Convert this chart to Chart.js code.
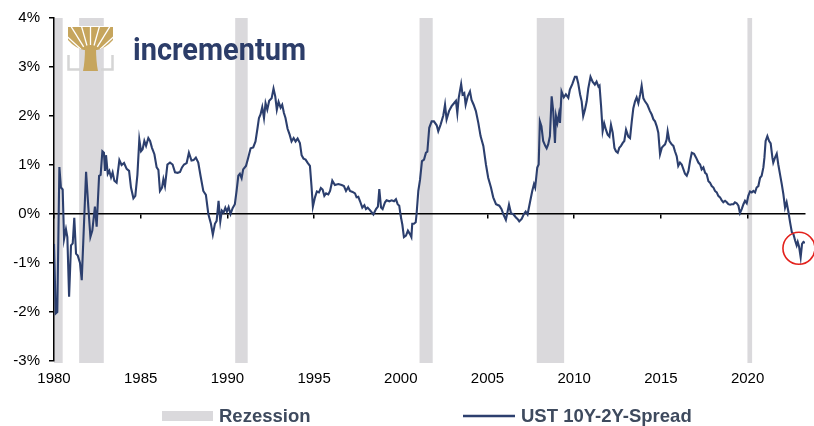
<!DOCTYPE html>
<html>
<head>
<meta charset="utf-8">
<script src="https://cdn.jsdelivr.net/npm/chart.js@4/dist/chart.umd.min.js"></script>
<style>
  body { margin: 0; background: #fff; }
  #wrap { width: 814px; height: 426px; }
</style>
</head>
<body>
<div id="wrap"><canvas id="chart" width="814" height="426"></canvas></div>
<script>
// decimal years and the 10Y-2Y spread (in %)
const years = [
  1980.00, 1980.10, 1980.19, 1980.31, 1980.40, 1980.50, 1980.58, 1980.69, 1980.77, 1980.87, 1980.98,
  1981.08, 1981.17, 1981.27, 1981.37, 1981.50, 1981.60, 1981.85, 1981.98,
  1982.10, 1982.21, 1982.36, 1982.46, 1982.60, 1982.69, 1982.79, 1982.88, 1982.94,
  1983.00, 1983.10, 1983.19, 1983.29, 1983.38, 1983.48, 1983.61, 1983.77, 1983.90,
  1984.04, 1984.19, 1984.33, 1984.44, 1984.58, 1984.69, 1984.81, 1984.92,
  1985.02, 1985.11, 1985.21, 1985.31, 1985.44, 1985.54, 1985.65, 1985.79, 1985.92,
  1986.02, 1986.11, 1986.23, 1986.31, 1986.40, 1986.54, 1986.69, 1986.84, 1986.98,
  1987.13, 1987.27, 1987.38, 1987.50, 1987.65, 1987.78, 1987.93,
  1988.05, 1988.18, 1988.32, 1988.45, 1988.61, 1988.76, 1988.90,
  1989.05, 1989.16, 1989.28, 1989.38, 1989.49, 1989.59, 1989.68, 1989.78, 1989.88, 1989.97,
  1990.07, 1990.18, 1990.30, 1990.43, 1990.53, 1990.63, 1990.72, 1990.82, 1990.91,
  1991.07, 1991.20, 1991.34, 1991.49, 1991.62, 1991.74, 1991.82, 1991.91,
  1992.01, 1992.11, 1992.20, 1992.30, 1992.41, 1992.55, 1992.66, 1992.76, 1992.85, 1992.95,
  1993.07, 1993.16, 1993.26, 1993.35, 1993.47, 1993.59, 1993.70, 1993.82, 1993.93,
  1994.05, 1994.18, 1994.28, 1994.39, 1994.51, 1994.62, 1994.76, 1994.85, 1994.93,
  1995.05, 1995.16, 1995.28, 1995.39, 1995.49, 1995.59, 1995.69, 1995.82, 1995.92,
  1996.05, 1996.20, 1996.40, 1996.59, 1996.72, 1996.84, 1996.97,
  1997.07, 1997.22, 1997.36, 1997.45, 1997.55, 1997.65, 1997.78, 1997.90, 1997.99,
  1998.09, 1998.22, 1998.42, 1998.57, 1998.68, 1998.76, 1998.86, 1998.95,
  1999.09, 1999.18, 1999.34, 1999.47, 1999.61, 1999.72, 1999.82, 1999.91, 1999.99,
  2000.09, 2000.18, 2000.30, 2000.41, 2000.53, 2000.61, 2000.66, 2000.76, 2000.86, 2000.91,
  2001.01, 2001.11, 2001.22, 2001.34, 2001.45, 2001.53, 2001.64, 2001.78, 2001.91,
  2002.07, 2002.16, 2002.30, 2002.45, 2002.55, 2002.64, 2002.78, 2002.93,
  2003.09, 2003.18, 2003.26, 2003.34, 2003.48, 2003.56, 2003.66, 2003.74, 2003.86, 2003.99,
  2004.08, 2004.20, 2004.33, 2004.47, 2004.60, 2004.76, 2004.91,
  2005.04, 2005.20, 2005.33, 2005.49, 2005.68, 2005.81, 2005.91,
  2006.06, 2006.24, 2006.36, 2006.48, 2006.64, 2006.73, 2006.83, 2006.97,
  2007.10, 2007.20, 2007.31, 2007.45, 2007.58, 2007.68, 2007.75, 2007.87, 2007.95,
  2008.02, 2008.11, 2008.21, 2008.33, 2008.41, 2008.50, 2008.60, 2008.70, 2008.79, 2008.89, 2008.95,
  2009.03, 2009.12, 2009.18, 2009.27, 2009.40, 2009.52, 2009.66, 2009.75, 2009.89,
  2010.04, 2010.14, 2010.23, 2010.34, 2010.43, 2010.52, 2010.62, 2010.72, 2010.81, 2010.94,
  2011.06, 2011.19, 2011.29, 2011.40, 2011.46, 2011.55, 2011.64, 2011.73, 2011.83, 2011.93,
  2012.03, 2012.12, 2012.22, 2012.32, 2012.41, 2012.51, 2012.60, 2012.70, 2012.80, 2012.89, 2012.99,
  2013.12, 2013.22, 2013.32, 2013.41, 2013.51, 2013.60, 2013.70, 2013.80, 2013.89, 2013.99,
  2014.08, 2014.22, 2014.37, 2014.47, 2014.57, 2014.66, 2014.76, 2014.85, 2014.95,
  2015.05, 2015.14, 2015.24, 2015.33, 2015.39, 2015.49, 2015.62, 2015.72, 2015.81, 2015.91,
  2016.00, 2016.10, 2016.20, 2016.30, 2016.39, 2016.49, 2016.59, 2016.68, 2016.78, 2016.91,
  2017.03, 2017.16, 2017.26, 2017.35, 2017.45, 2017.55, 2017.64, 2017.74, 2017.83, 2017.93,
  2018.03, 2018.12, 2018.22, 2018.31, 2018.41, 2018.51, 2018.60, 2018.70, 2018.80, 2018.89, 2018.99,
  2019.08, 2019.18, 2019.27, 2019.37, 2019.47, 2019.56, 2019.66, 2019.76, 2019.85, 2019.95,
  2020.04, 2020.14, 2020.24, 2020.33, 2020.43, 2020.52, 2020.62, 2020.72, 2020.81, 2020.91, 2020.97,
  2021.04, 2021.14, 2021.24, 2021.33, 2021.43, 2021.48, 2021.58, 2021.68, 2021.77, 2021.87, 2021.97,
  2022.06, 2022.16, 2022.25, 2022.35, 2022.45, 2022.55, 2022.64, 2022.74, 2022.83, 2022.89, 2022.97,
  2023.06, 2023.14, 2023.22, 2023.31
];
const spread = [
  -0.61, -2.03, -2.00, 0.96, 0.54, 0.50, -0.51, -0.31, -0.47, -1.69, -0.64,
  -0.60, -0.08, -0.81, -0.85, -1.00, -1.35, 0.86, 0.14,
  -0.47, -0.34, 0.15, -0.26, 0.78, 0.80, 1.28, 1.25, 0.88,
  1.20, 0.82, 0.88, 0.75, 0.85, 0.68, 0.64, 1.10, 1.00,
  1.04, 0.92, 0.88, 0.54, 0.32, 0.37, 0.80, 1.52,
  1.28, 1.32, 1.49, 1.39, 1.55, 1.49, 1.35, 1.22, 0.95,
  0.90, 0.47, 0.54, 0.71, 0.57, 1.01, 1.05, 1.01, 0.85,
  0.84, 0.86, 0.95, 1.01, 1.04, 1.25, 1.09,
  1.10, 1.15, 1.05, 0.78, 0.47, 0.39, 0.00,
  -0.20, -0.42, -0.20, -0.14, 0.27, -0.15, 0.07, 0.03, 0.13, 0.05,
  0.14, 0.00, 0.12, 0.20, 0.47, 0.78, 0.82, 0.73, 0.91,
  0.98, 1.15, 1.34, 1.36, 1.48, 1.76, 1.96, 2.03,
  2.18, 1.96, 2.26, 2.13, 2.31, 2.36, 2.56, 2.40, 2.13, 2.29,
  2.17, 2.23, 2.06, 1.96, 1.74, 1.62, 1.48, 1.55, 1.48,
  1.54, 1.45, 1.20, 1.13, 1.11, 1.05, 0.98, 0.57, 0.15,
  0.34, 0.46, 0.44, 0.53, 0.50, 0.37, 0.42, 0.40, 0.47,
  0.68, 0.59, 0.61, 0.59, 0.57, 0.47, 0.55,
  0.47, 0.45, 0.42, 0.34, 0.35, 0.26, 0.13, 0.18, 0.10,
  0.13, 0.08, -0.01, 0.10, 0.15, 0.51, 0.13, 0.10,
  0.24, 0.28, 0.26, 0.28, 0.26, 0.30, 0.20, 0.17, -0.03,
  -0.22, -0.47, -0.44, -0.34, -0.41, -0.47, -0.20, -0.20, -0.17, 0.00,
  0.47, 0.70, 1.08, 1.11, 1.25, 1.27, 1.76, 1.89, 1.89,
  1.81, 1.69, 1.83, 2.01, 2.23, 1.93, 2.10, 2.20,
  2.27, 2.31, 2.06, 2.37, 2.65, 2.44, 2.47, 2.23, 2.40, 2.50,
  2.33, 2.23, 2.10, 1.86, 1.59, 1.39, 1.01,
  0.74, 0.54, 0.34, 0.20, 0.17, 0.10, 0.00,
  -0.12, 0.19, 0.01, 0.00, -0.07, -0.10, -0.15, -0.10,
  0.00, 0.05, -0.01, 0.24, 0.47, 0.61, 0.54, 0.95, 1.01,
  1.89, 1.79, 1.49, 1.39, 1.34, 1.42, 1.59, 2.40, 2.10, 1.45, 2.00,
  1.86, 2.04, 1.86, 2.50, 2.38, 2.44, 2.37, 2.54, 2.65,
  2.80, 2.80, 2.67, 2.44, 2.30, 2.00, 2.13, 2.30, 2.56, 2.80,
  2.70, 2.64, 2.70, 2.60, 2.62, 2.20, 1.69, 1.85, 1.72, 1.62,
  1.58, 1.82, 1.66, 1.35, 1.28, 1.25, 1.35, 1.39, 1.45, 1.49, 1.72,
  1.58, 1.55, 1.89, 2.16, 2.30, 2.38, 2.26, 2.43, 2.62, 2.36,
  2.30, 2.23, 2.10, 2.03, 1.93, 1.89, 1.79, 1.66, 1.22,
  1.35, 1.39, 1.42, 1.52, 1.69, 1.49, 1.42, 1.39, 1.28, 1.18,
  0.98, 1.05, 1.01, 0.91, 0.82, 0.78, 0.88, 1.08, 1.25, 1.23,
  1.15, 1.05, 1.01, 0.91, 0.95, 0.84, 0.81, 0.67, 0.64, 0.57,
  0.54, 0.47, 0.44, 0.37, 0.34, 0.28, 0.24, 0.27, 0.24, 0.20, 0.19,
  0.20, 0.20, 0.24, 0.22, 0.17, 0.02, 0.10, 0.20, 0.27, 0.22,
  0.37, 0.46, 0.44, 0.47, 0.44, 0.54, 0.57, 0.74, 0.78, 0.95, 1.15,
  1.49, 1.59, 1.49, 1.44, 1.15, 1.05, 1.15, 1.23, 1.01, 0.81, 0.61,
  0.41, 0.13, 0.24, 0.05, -0.17, -0.37, -0.41, -0.54, -0.64, -0.57, -0.67,
  -0.88, -0.61, -0.57, -0.59
];

// NBER recessions (start / end as decimal years)
const recessionStart = [1980.00, 1981.45, 1990.45, 2001.08, 2007.84, 2019.99];
const recessionEnd   = [1980.50, 1982.87, 1991.17, 2001.84, 2009.42, 2020.26];

const xMin = 1980;
const xMax = 2023.31;
const xStep = 5;
const yMin = -3;
const yMax = 4;
const yStep = 1;

const seriesLabel = 'UST 10Y-2Y-Spread';
const recessionLabel = 'Rezession';
const brandName = 'incrementum';
const highlightPoint = { x: 2022.96, y: -0.70 };

const lineColor = '#2c3f6e';
const bandColor = '#dad9dc';
const gold = '#c6a55d';
const tickFont = { family: 'Arial, "Liberation Sans", sans-serif', size: 15 };

const recessionBands = {
    id: 'recessionBands',
    beforeDraw(chart) {
        const { ctx, chartArea, scales } = chart;
        ctx.save();
        ctx.fillStyle = bandColor;
        recessionStart.forEach((s, i) => {
            const x1 = scales.x.getPixelForValue(s);
            const x2 = scales.x.getPixelForValue(recessionEnd[i]);
            ctx.fillRect(x1, chartArea.top, x2 - x1, chartArea.bottom - chartArea.top + 2);
        });
        ctx.restore();
    },
};

const circleMark = {
    id: 'circleMark',
    afterDatasetsDraw(chart) {
        const { ctx, scales } = chart;
        const cx = scales.x.getPixelForValue(highlightPoint.x);
        const cy = scales.y.getPixelForValue(highlightPoint.y);
        ctx.save();
        ctx.strokeStyle = '#e3211c';
        ctx.lineWidth = 1.6;
        ctx.beginPath();
        ctx.arc(cx, cy, 16, 0, Math.PI * 2);
        ctx.stroke();
        ctx.restore();
    },
};

function crownPath(ctx) {
    ctx.beginPath();
    ctx.moveTo(68, 27);
    ctx.lineTo(113, 27);
    ctx.lineTo(113, 40);
    ctx.quadraticCurveTo(106, 48, 97, 50);
    ctx.lineTo(84, 50);
    ctx.quadraticCurveTo(75, 48, 68, 40);
    ctx.closePath();
}

function drawLogo(ctx) {
    ctx.save();
    // grey bracket under the tree
    ctx.strokeStyle = '#d5d5d5';
    ctx.lineWidth = 2.5;
    ctx.beginPath();
    ctx.moveTo(68.5, 55); ctx.lineTo(68.5, 69.5); ctx.lineTo(80, 69.5);
    ctx.moveTo(101, 69.5); ctx.lineTo(112.5, 69.5); ctx.lineTo(112.5, 55);
    ctx.stroke();

    ctx.fillStyle = '#fff';
    ctx.fillRect(67, 26, 47, 22);

    // crown, with thin gaps between the branches
    ctx.save();
    crownPath(ctx);
    ctx.fillStyle = gold;
    ctx.fill();
    ctx.clip();
    ctx.strokeStyle = '#fff';
    ctx.lineWidth = 1.3;
    const ox = 90.5, oy = 58;
    for (let k = 0; k < 11; k++) {
        const a = Math.PI * (1.06 + k * 0.088);
        ctx.beginPath();
        ctx.moveTo(ox + Math.cos(a) * 13, oy + Math.sin(a) * 13);
        ctx.lineTo(ox + Math.cos(a) * 45, oy + Math.sin(a) * 45);
        ctx.stroke();
    }
    ctx.restore();

    // trunk
    ctx.fillStyle = gold;
    ctx.beginPath();
    ctx.moveTo(85, 46);
    ctx.lineTo(96, 46);
    ctx.quadraticCurveTo(96, 62, 98, 71);
    ctx.lineTo(83, 71);
    ctx.quadraticCurveTo(85, 62, 85, 46);
    ctx.fill();

    // brand name
    ctx.fillStyle = '#2c3d69';
    ctx.font = 'bold 31px Roboto, "Open Sans", sans-serif';
    ctx.textBaseline = 'alphabetic';
    ctx.fillText(brandName, 133, 60, 173);
    ctx.restore();
}

function drawLegend(ctx) {
    ctx.save();
    ctx.font = 'bold 18.5px Arial, "Liberation Sans", sans-serif';
    ctx.fillStyle = bandColor;
    ctx.fillRect(162, 411, 51, 10);
    ctx.fillStyle = '#3e4a5e';
    ctx.textBaseline = 'alphabetic';
    ctx.fillText(recessionLabel, 219, 421.5);

    ctx.strokeStyle = lineColor;
    ctx.lineWidth = 2.5;
    ctx.beginPath();
    ctx.moveTo(463, 416);
    ctx.lineTo(515, 416);
    ctx.stroke();
    ctx.fillText(seriesLabel, 521, 421.5);
    ctx.restore();
}

const decorations = {
    id: 'decorations',
    afterDraw(chart) {
        drawLogo(chart.ctx);
        drawLegend(chart.ctx);
    },
};

const ctx = document.getElementById('chart').getContext('2d');
const points = years.map((x, i) => ({ x, y: spread[i] }));

new Chart(ctx, {
    type: 'line',
    data: {
        datasets: [
            {
                label: seriesLabel,
                data: points,
                borderColor: lineColor,
                borderWidth: 2.1,
                pointRadius: 0,
                tension: 0,
                fill: false,
                xAxisID: 'x',
                yAxisID: 'y',
            },
        ],
    },
    options: {
        responsive: false,
        animation: false,
        layout: { padding: { top: 16, right: 9, bottom: 0, left: 0 } },
        plugins: {
            legend: { display: false },
            tooltip: { enabled: false },
        },
        scales: {
            x: {
                type: 'linear',
                position: 'bottom',
                min: xMin,
                max: xMax,
                afterFit(scale) { scale.height = 65; },
                grid: { display: false, drawTicks: false },
                border: { display: false },
                ticks: {
                    stepSize: xStep,
                    includeBounds: false,
                    autoSkip: false,
                    maxRotation: 0,
                    padding: 9,
                    color: '#000',
                    font: tickFont,
                    callback: (v) => String(v),
                },
            },
            x0: {
                type: 'linear',
                position: { y: 0 },
                min: xMin,
                max: xMax,
                grid: { drawOnChartArea: false, drawTicks: true, tickLength: 4, color: '#000', lineWidth: 1.5 },
                border: { display: true, color: '#000', width: 1.5 },
                ticks: { display: false, stepSize: xStep, includeBounds: false },
            },
            y: {
                min: yMin,
                max: yMax,
                afterFit(scale) { scale.width = 54; },
                grid: { drawOnChartArea: false, drawTicks: true, tickLength: 5, color: '#000', lineWidth: 1.5 },
                border: { display: true, color: '#000', width: 1.5 },
                ticks: {
                    stepSize: yStep,
                    padding: 9,
                    color: '#000',
                    font: tickFont,
                    callback: (v) => v + '%',
                },
            },
        },
    },
    plugins: [recessionBands, circleMark, decorations],
});
</script>
</body>
</html>
